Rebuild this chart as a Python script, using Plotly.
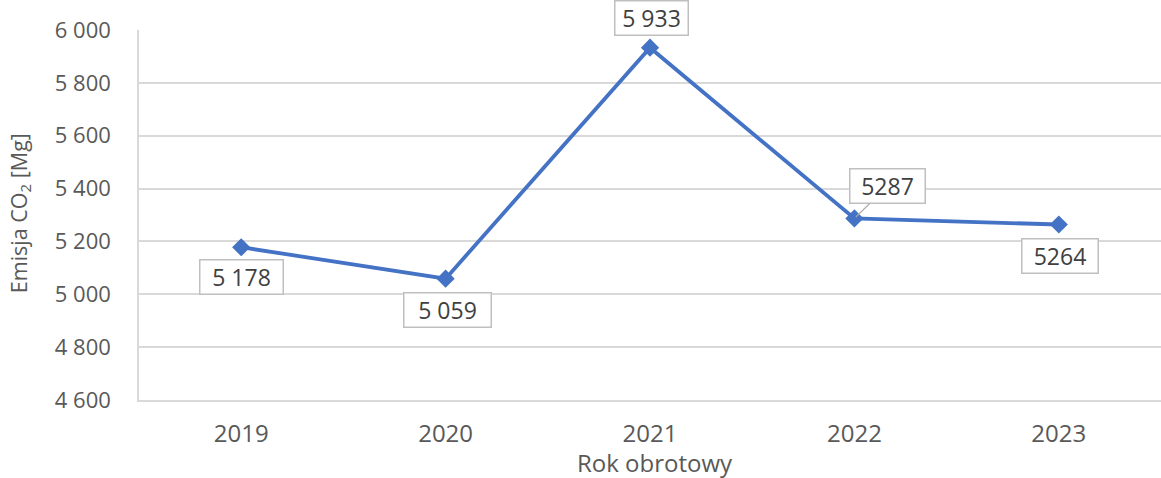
import plotly.graph_objects as go

years = ["2019", "2020", "2021", "2022", "2023"]
emissions = [5178, 5059, 5933, 5287, 5264]
labels = ["5 178", "5 059", "5 933", "5287", "5264"]
y_ticks = [4600, 4800, 5000, 5200, 5400, 5600, 5800, 6000]
y_tick_text = ["4 600", "4 800", "5 000", "5 200", "5 400", "5 600", "5 800", "6 000"]

FONT = "Open Sans, Noto Sans, DejaVu Sans, sans-serif"
GREY = "#595959"
LINE = "#4472C4"

fig = go.Figure()
fig.add_trace(go.Scatter(
    x=years, y=emissions, mode="lines+markers",
    line=dict(color=LINE, width=3.8),
    marker=dict(symbol="diamond", size=14, color=LINE),
    hoverinfo="skip", showlegend=False,
))

# label box placement: (dx, dy in screen pixels, box width, leader line)
placement = [(0, 30, 80, False), (2, 31, 84, False), (1, -30, 70, False),
             (33, -32, 72, True), (1, 31, 73, False)]
for i, (v, t) in enumerate(zip(emissions, labels)):
    dx, dy, w, arrow = placement[i]
    common = dict(
        x=i, y=v, xref="x", yref="y", text=t,
        font=dict(family=FONT, size=23, color="#404040"),
        bgcolor="white", bordercolor="#bfbfbf", borderwidth=1.5, borderpad=1,
        width=w, height=31,
    )
    if arrow:
        fig.add_annotation(**common, showarrow=True, ax=dx, ay=dy,
                           arrowhead=0, arrowwidth=1.2, arrowcolor="#a6a6a6", standoff=2)
    else:
        fig.add_annotation(**common, showarrow=False, xshift=dx, yshift=-dy)

# axis titles
fig.add_annotation(x=0.5045, y=-0.17, xref="paper", yref="paper", text="Rok obrotowy",
                   showarrow=False, xanchor="center", yanchor="middle",
                   font=dict(family=FONT, size=24, color=GREY))
fig.add_annotation(x=-0.1164, y=0.505, xref="paper", yref="paper",
                   text="Emisja CO<sub>2</sub> [Mg]", textangle=-90,
                   showarrow=False, xanchor="center", yanchor="middle",
                   font=dict(family=FONT, size=21.5, color=GREY))

fig.update_layout(
    width=1161, height=478,
    margin=dict(l=139, r=0, t=30, b=78, autoexpand=False),
    paper_bgcolor="white", plot_bgcolor="white",
    font=dict(family=FONT, color=GREY),
)
fig.update_xaxes(
    type="category", range=[-0.5, 4.5], automargin=False,
    showgrid=False, showline=True, linecolor="#d9d9d9", linewidth=1.5,
    ticks="", tickfont=dict(size=24, color=GREY, family=FONT), ticklabelstandoff=11,
)
fig.update_yaxes(
    range=[4600, 6000], tickvals=y_ticks, ticktext=y_tick_text, automargin=False,
    showgrid=True, gridcolor="#d9d9d9", gridwidth=1.5,
    showline=True, linecolor="#d9d9d9", linewidth=1.5, zeroline=False,
    ticks="", tickfont=dict(size=22, color=GREY, family=FONT), ticklabelstandoff=22,
)

fig.write_html("out.html", config={"displayModeBar": False},
               post_script="document.body.style.margin='0px';")
